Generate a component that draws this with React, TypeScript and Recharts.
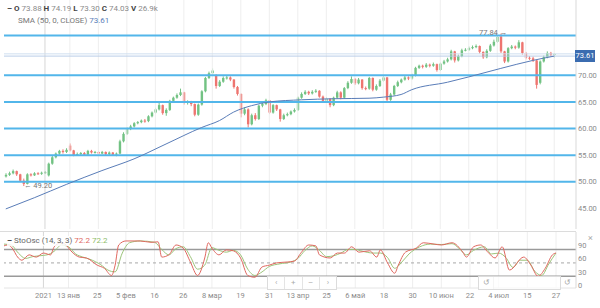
import React from 'react';
import { ComposedChart, Bar, Line, XAxis, YAxis, ReferenceLine } from 'recharts';

const opens = [
  51.0,51.3,51.6,52.0,51.4,50.2,49.6,51.4,51.2,51.6,
  51.5,51.7,51.2,53.4,54.6,55.3,55.8,55.6,56.8,55.9,
  55.0,55.2,55.4,55.1,55.8,55.5,55.6,55.3,55.6,55.2,
  55.5,55.1,55.3,57.6,59.0,59.9,60.4,61.0,61.2,61.5,
  61.4,62.3,63.0,63.6,64.4,62.9,63.5,65.2,65.8,66.3,
  66.8,64.8,65.0,64.6,62.6,64.5,67.0,69.5,70.4,70.0,
  68.0,68.8,69.5,69.6,69.2,67.8,66.5,62.8,63.6,60.8,
  62.5,61.8,64.3,64.6,65.3,63.0,64.4,63.6,61.8,62.5,
  62.7,63.2,63.5,65.8,66.5,66.9,66.6,66.9,67.1,66.0,
  65.2,65.6,64.4,65.8,66.8,65.8,67.6,68.6,69.3,68.5,
  69.2,67.6,67.5,69.5,67.3,68.0,69.0,69.6,65.4,66.4,
  68.0,68.7,69.2,69.6,69.4,70.0,71.4,71.8,71.6,72.0,
  71.8,72.1,71.0,72.2,72.6,73.0,74.5,72.8,73.6,74.7,
  74.8,75.1,75.3,75.5,74.4,73.4,74.6,75.6,76.3,77.3,
  74.5,72.6,75.1,75.4,75.2,76.2,74.2,73.3,73.2,72.8,
  68.6,72.6,73.4,74.2,73.88,
];
const highs = [
  51.6,51.9,52.3,52.1,51.5,50.6,51.6,51.6,51.8,51.8,
  51.9,52.0,53.6,54.9,55.5,56.0,56.1,56.3,57.2,56.0,
  55.5,55.6,55.6,56.0,56.0,55.8,55.8,55.8,55.7,55.7,
  55.6,55.5,57.9,59.3,60.2,60.7,61.2,61.4,61.7,61.8,
  62.5,63.2,63.9,64.8,64.5,63.8,65.4,66.0,66.6,67.5,
  66.9,65.3,65.2,64.7,64.7,67.2,69.7,70.7,71.3,70.2,
  69.1,69.8,69.9,69.8,69.3,68.0,66.6,64.0,63.8,62.8,
  62.9,64.5,64.9,65.6,65.4,64.6,64.5,63.7,62.8,63.0,
  63.4,63.8,66.0,66.8,67.2,67.1,67.2,67.4,67.2,66.2,
  65.9,65.7,66.0,67.1,67.0,67.8,68.9,69.8,69.5,69.5,
  69.3,67.9,69.7,69.6,68.3,69.3,69.9,69.7,66.7,68.2,
  69.0,69.4,69.9,69.8,70.3,71.6,72.0,72.0,72.3,72.2,
  72.4,72.2,72.4,72.9,73.3,74.8,74.6,73.9,75.0,75.1,
  75.4,75.6,75.8,75.6,74.5,74.9,75.9,76.7,77.5,77.84,
  74.6,75.3,75.7,75.6,76.6,76.3,74.4,73.6,73.5,72.9,
  72.8,73.7,74.5,74.4,74.19,
];
const lows = [
  50.8,51.1,51.4,51.1,50.0,49.2,49.5,51.0,51.1,51.3,
  51.3,51.5,51.0,53.2,54.4,55.1,55.3,55.4,55.7,54.8,
  54.9,55.0,54.9,55.0,55.3,55.3,55.1,55.2,55.0,55.0,
  54.9,54.8,55.2,57.4,58.8,59.7,60.2,60.8,61.0,61.1,
  61.2,62.1,62.8,63.4,62.6,62.4,63.3,65.0,65.6,66.1,
  64.5,64.5,64.2,62.3,62.4,64.3,66.8,69.3,70.2,67.5,
  67.8,68.6,69.2,68.9,67.5,66.2,62.1,62.5,60.2,60.6,
  61.5,61.6,64.0,64.4,62.7,62.8,63.3,61.3,61.6,62.3,
  62.5,63.0,63.3,65.6,66.3,66.3,66.4,66.7,65.8,64.9,
  65.0,64.0,64.2,65.6,65.5,65.6,67.4,68.4,68.2,68.3,
  67.3,67.2,67.3,67.0,67.1,67.8,68.8,64.9,65.2,66.2,
  67.8,68.5,69.0,69.1,69.2,69.8,71.2,71.3,71.4,71.5,
  71.6,70.7,70.8,72.0,72.4,72.8,72.4,72.6,73.4,74.5,
  74.6,74.9,75.1,74.1,73.1,73.2,74.4,75.4,76.1,74.2,
  72.3,72.4,74.9,74.9,75.0,73.9,73.0,72.9,72.5,67.5,
  68.3,72.4,73.2,73.6,73.30,
];
const closes = [
  51.3,51.6,52.0,51.4,50.2,49.6,51.4,51.2,51.6,51.5,
  51.7,51.8,53.4,54.6,55.3,55.8,55.6,56.0,55.9,55.0,
  55.2,55.4,55.1,55.8,55.5,55.6,55.3,55.6,55.2,55.5,
  55.1,55.3,57.6,59.0,59.9,60.4,61.0,61.2,61.5,61.4,
  62.3,63.0,63.6,64.4,62.9,63.5,65.2,65.8,66.3,66.8,
  64.8,65.0,64.6,62.6,64.5,67.0,69.5,70.4,70.9,68.0,
  68.8,69.5,69.6,69.2,67.8,66.5,62.8,63.6,60.8,62.5,
  61.8,64.3,64.6,65.3,63.0,64.4,63.6,61.8,62.5,62.7,
  63.2,63.5,65.8,66.5,66.9,66.6,66.9,67.1,66.0,65.2,
  65.6,64.4,65.8,66.8,65.8,67.6,68.6,69.3,68.5,69.2,
  67.6,67.5,69.5,67.3,68.0,69.0,69.6,65.4,66.4,68.0,
  68.7,69.2,69.6,69.4,70.0,71.4,71.8,71.6,72.0,71.8,
  72.1,71.0,72.2,72.6,73.0,74.5,72.8,73.6,74.7,74.8,
  75.1,75.3,75.5,74.4,73.4,74.6,75.6,76.3,77.2,74.5,
  72.6,75.1,75.4,75.2,76.2,74.2,73.3,73.2,72.8,68.2,
  72.6,73.4,74.2,73.9,74.03,
];

// SMA(50) read at candle indices
const smaPoints: [number, number][] = [
  [0,44.9],[8,47.0],[17,49.5],[27,52.1],[36,54.3],[45,57.1],[55,60.2],[60,61.5],
  [64,63.1],[69,64.3],[74,65.0],[83,65.4],[92,65.6],[102,65.7],[106,65.9],
  [111,66.4],[114,67.3],[124,68.7],[130,69.7],[139,71.3],[148,72.8],[154,73.61],
];
// Stochastic %K (red) and %D (green)
const kPoints: [number, number][] = [
  [0,88],[1,90],[2,86],[4,61],[5,56],[7,68],[9,63],[11,72],[13,68],[14,86],[16,95],[17,92],
  [19,74],[21,63],[23,61],[26,45],[28,38],[30,22],[31,45],[32,90],[34,99],[38,99],[41,96],
  [43,97],[44,63],[46,68],[48,90],[50,83],[52,52],[54,22],[56,61],[57,95],[58,83],[60,68],
  [62,79],[64,77],[66,61],[68,22],[70,18],[72,41],[74,45],[76,50],[79,52],[81,54],[83,74],
  [85,90],[87,88],[88,68],[91,61],[93,72],[95,72],[97,86],[99,74],[102,77],[104,63],[105,79],
  [107,50],[109,27],[110,45],[112,74],[115,83],[117,95],[120,92],[122,90],[125,95],[128,74],
  [129,63],[131,86],[133,90],[135,74],[137,61],[139,86],[141,34],[145,63],[147,45],[149,20],
  [151,38],[153,68],[154,72.2],
];
const dPoints: [number, number][] = [
  [0,92],[2,90],[4,72],[6,60],[8,64],[10,66],[12,68],[14,76],[16,90],[18,86],[20,70],[22,63],
  [24,58],[27,46],[29,34],[31,30],[33,72],[35,95],[38,99],[42,96],[44,80],[46,68],[48,82],
  [50,86],[52,64],[54,36],[56,45],[58,84],[60,78],[62,74],[64,78],[66,68],[68,36],[70,22],
  [72,30],[74,42],[77,48],[80,52],[82,60],[84,78],[86,88],[88,78],[90,64],[92,66],[94,72],
  [96,80],[98,80],[100,76],[103,72],[105,72],[107,62],[109,38],[111,52],[113,70],[116,86],
  [119,92],[122,91],[125,93],[127,82],[129,68],[131,78],[134,86],[136,70],[138,72],[140,62],
  [142,40],[144,56],[146,56],[148,32],[150,22],[152,48],[154,72.2],
];

const tickIdx = [11,18,26,34,42,50,58,66,74,82,90,98,106,114,122,130,138,146,154];
const tickLabels = ['2021','13 янв','25','5 фев','16','26','8 мар','19','31','13 апр','25','6 май','18','30','10 июн','22','4 июл','15','27'];
const levels = [77.5, 70, 65, 60, 55, 50];
const priceTicks = [45, 50, 55, 60, 65, 70];
const stochTicks = [0, 30, 60, 90];

const GREEN = '#72c283';
const RED = '#ee7570';
const FONT = 'Roboto, Arial, sans-serif';

type Row = { i: number; o: number; h: number; l: number; c: number; range: number[]; sma: number | null; k: number | null; d: number | null };
const rows: Row[] = opens.map((o, i) => ({ i, o, h: highs[i], l: lows[i], c: closes[i], range: [lows[i], highs[i]], sma: null, k: null, d: null }));
smaPoints.forEach(([i, v]) => { rows[i].sma = v; });
kPoints.forEach(([i, v]) => { rows[i].k = v; });
dPoints.forEach(([i, v]) => { rows[i].d = v; });
const tickMap = new Map<number, string>(tickIdx.map((t, n) => [t, tickLabels[n]]));

const Candle = (props: any) => {
  const { x, y, width, height, payload } = props;
  if (!payload || x == null) return null;
  const { o, h, l, c } = payload;
  const top = Math.min(y, y + height);
  const hh = Math.abs(height);
  const ratio = hh / (h - l);
  const color = c >= o ? GREEN : RED;
  const cx = x + width / 2;
  const bTop = top + (h - Math.max(o, c)) * ratio;
  const bH = Math.max(1, Math.abs(o - c) * ratio);
  return (
    <g>
      <line x1={cx} x2={cx} y1={top} y2={top + hh} stroke={color} strokeWidth={1} />
      <rect x={cx - 1.2} y={bTop} width={2.4} height={bH} fill={color} />
    </g>
  );
};

const MARGIN = { top: 0, right: 0, bottom: 0, left: 4 };
const PAD = { left: 0, right: 20 };

export default function App() {
  const txt: React.CSSProperties = { position: 'absolute', fontFamily: FONT, fontSize: 8, whiteSpace: 'nowrap', lineHeight: '10px' };
  return (
    <div style={{ position: 'absolute', left: 0, top: 0, width: 600, height: 308, background: '#fff', overflow: 'hidden' }}>
      <div style={{ position: 'absolute', left: 0, top: 0 }}>
        <ComposedChart width={600} height={229} data={rows} margin={MARGIN} barCategoryGap={0}>
          <XAxis dataKey="i" type="category" hide padding={PAD} />
          <YAxis orientation="right" domain={[41.13, 84.15]} allowDataOverflow ticks={priceTicks} interval={0} width={24}
            tickLine={false} tickSize={0} tickMargin={2} axisLine={{ stroke: '#d9d9d9' }}
            tick={{ fontSize: 7.5, fill: '#8c8c8c', fontFamily: FONT }} tickFormatter={(v: number) => v.toFixed(2)} />
          {tickIdx.map((t) => (
            <ReferenceLine key={'gx' + t} x={t} stroke={t === 11 ? '#d6d6d6' : '#eeeeee'} strokeWidth={1} />
          ))}
          {levels.map((v) => (
            <ReferenceLine key={'lv' + v} y={v} stroke="#52b6ea" strokeWidth={2} />
          ))}
          <ReferenceLine y={74.03} stroke="#cfdff0" strokeWidth={1} />
          <ReferenceLine y={73.61} stroke="#b9cde8" strokeWidth={1} />
          <Line dataKey="sma" stroke="#5a7db8" strokeWidth={1} dot={false} connectNulls type="monotone" isAnimationActive={false} />
          <Bar dataKey="range" shape={(p: any) => <Candle {...p} />} isAnimationActive={false} />
        </ComposedChart>
      </div>
      <div style={{ position: 'absolute', left: 0, top: 228 }}>
        <ComposedChart width={600} height={80} data={rows} margin={{ top: 4, right: 0, bottom: 0, left: 4 }}>
          <XAxis dataKey="i" type="category" padding={PAD} interval={0} height={20} tickLine={false} tickSize={0} tickMargin={5}
            axisLine={{ stroke: '#e4e4e4' }} tick={{ fontSize: 7.5, fill: '#8c8c8c', fontFamily: FONT }}
            tickFormatter={(v: number) => tickMap.get(v) ?? ''} />
          <YAxis orientation="right" domain={[-6, 119]} allowDataOverflow ticks={stochTicks} interval={0} width={24}
            tickLine={false} tickSize={0} tickMargin={2} axisLine={{ stroke: '#d9d9d9' }}
            tick={{ fontSize: 7.5, fill: '#8c8c8c', fontFamily: FONT }} />
          {tickIdx.map((t) => (
            <ReferenceLine key={'sx' + t} x={t} stroke={t === 11 ? '#d6d6d6' : '#eeeeee'} strokeWidth={1} />
          ))}
          <ReferenceLine y={80} stroke="#9a9a9a" strokeWidth={1.5} />
          <ReferenceLine y={20} stroke="#9a9a9a" strokeWidth={1.5} />
          <ReferenceLine y={50} stroke="#a8a8a8" strokeWidth={1} strokeDasharray="3 3" />
          <Line dataKey="d" stroke="#9cc47a" strokeWidth={1} dot={false} connectNulls type="monotone" isAnimationActive={false} />
          <Line dataKey="k" stroke="#e0675f" strokeWidth={1} dot={false} connectNulls type="monotone" isAnimationActive={false} />
        </ComposedChart>
      </div>
      {/* panel separator */}
      <div style={{ position: 'absolute', left: 0, top: 231, width: 576, height: 1, background: '#dcdcdc' }} />

      {/* legends */}
      <div style={{ ...txt, left: 7, top: 4, color: '#8a8a8a' }}>
        <span style={{ color: '#333', fontWeight: 700 }}>–</span>
        {' '}<b style={{ color: '#444' }}>O</b> 73.88 <b style={{ color: '#444' }}>H</b> 74.19 <b style={{ color: '#444' }}>L</b> 73.30 <b style={{ color: '#444' }}>C</b> 74.03 <b style={{ color: '#444' }}>V</b> 26.9k
      </div>
      <div style={{ ...txt, left: 18, top: 16, color: '#777' }}>
        SMA (50, 0, CLOSE) <span style={{ color: '#5a7db8' }}>73.61</span>
      </div>
      <div style={{ ...txt, left: 7, top: 236, color: '#666', background: 'rgba(255,255,255,0.85)', paddingRight: 2 }}>
        <span style={{ color: '#333', fontWeight: 700 }}>–</span> StoOsc (14, 3, 3) <span style={{ color: '#e0675f' }}>72.2</span> <span style={{ color: '#8fbd6a' }}>72.2</span>
      </div>

      {/* annotations */}
      <div style={{ ...txt, left: 24, top: 181, color: '#777', fontSize: 7.5 }}>← 49.20</div>
      <div style={{ ...txt, left: 479, top: 28, color: '#777', fontSize: 7.5 }}>77.84 →</div>

      {/* last price label */}
      <div style={{ position: 'absolute', left: 575, top: 50, width: 20, height: 12, background: '#3b6cb0', color: '#fff', fontFamily: FONT, fontSize: 7.5, lineHeight: '12px', textAlign: 'center' }}>73.61</div>

      {/* panel controls */}
      <div style={{ ...txt, left: 588, top: 233, color: '#aaa', fontSize: 9 }}>×</div>
      <div style={{ position: 'absolute', left: 267, top: 276, width: 68, height: 12, border: '1px solid #dcdcdc', background: 'rgba(255,255,255,0.9)', display: 'flex', fontFamily: FONT, fontSize: 8, color: '#aaa' }}>
        {['‹', '+', '–', '›'].map((s, n) => (
          <div key={n} style={{ flex: 1, textAlign: 'center', lineHeight: '12px', borderLeft: n ? '1px solid #e4e4e4' : 'none' }}>{s}</div>
        ))}
      </div>
      <div style={{ position: 'absolute', left: 478, top: 276, width: 14, height: 12, border: '1px solid #dcdcdc', background: 'rgba(255,255,255,0.9)', fontFamily: FONT, fontSize: 8, color: '#aaa', textAlign: 'center', lineHeight: '12px' }}>↺</div>
      <div style={{ position: 'absolute', left: 493, top: 276, width: 67, height: 12, border: '1px solid #dcdcdc', borderLeft: 'none', background: 'rgba(255,255,255,0.7)' }} />
      <div style={{ ...txt, left: 564, top: 278, color: '#aaa', fontSize: 8 }}>↺</div>
    </div>
  );
}
